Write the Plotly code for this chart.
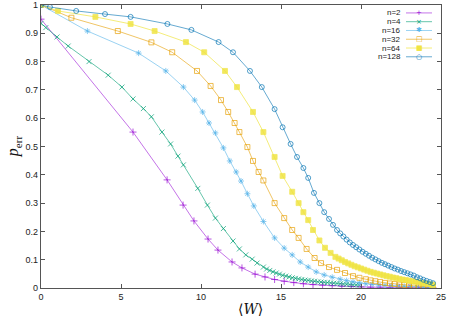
import plotly.graph_objects as go

# ---- data ----
labels = ["n=2", "n=4", "n=16", "n=32", "n=64", "n=128"]

x_n2 = [0, 5.75, 7.88, 8.88, 9.56, 10.44, 11.06, 11.94, 12.56, 13.38, 14.0, 14.6, 15.2, 15.8, 16.4,
        17.0, 17.6, 18.2, 18.8, 19.4, 20.0, 20.6, 21.2, 21.8, 22.4, 23.0, 23.6, 24.2, 24.5]
y_n2 = [0.95, 0.551, 0.382, 0.293, 0.237, 0.173, 0.134, 0.092, 0.071, 0.049, 0.039, 0.030, 0.024, 0.019, 0.015,
        0.012, 0.010, 0.008, 0.006, 0.005, 0.004, 0.003, 0.003, 0.002, 0.002, 0.002, 0.001, 0.001, 0.001]

x_n4 = [0, 0.3, 1.0, 1.7, 3.0, 4.2, 5.06, 5.75, 6.4, 6.9, 7.56, 8.1, 8.56, 8.9, 9.8, 10.4, 10.9, 11.4,
        12.0, 12.4, 12.8, 13.2, 13.5, 13.9, 14.1, 14.3, 14.5, 14.7, 14.9, 15.1, 15.3, 15.5, 15.7, 15.9,
        16.1, 16.3, 16.5, 16.7, 16.9, 17.1, 17.3, 17.5, 17.7, 17.9, 18.1, 18.3, 18.5, 18.7, 18.9, 19.1,
        19.3, 19.5, 19.7, 19.9]
y_n4 = [0.935, 0.92, 0.887, 0.855, 0.80, 0.752, 0.71, 0.668, 0.634, 0.605, 0.551, 0.509, 0.466, 0.435,
        0.352, 0.293, 0.247, 0.21, 0.166, 0.138, 0.117, 0.102, 0.088, 0.074, 0.067, 0.062, 0.057, 0.053,
        0.049, 0.045, 0.042, 0.039, 0.036, 0.034, 0.032, 0.030, 0.028, 0.027, 0.025, 0.024, 0.022, 0.021,
        0.020, 0.019, 0.018, 0.017, 0.016, 0.015, 0.014, 0.013, 0.012, 0.011, 0.011, 0.010]

x_n16 = [0, 2.9, 6.1, 7.8, 8.9, 9.6, 10.1, 10.5, 10.9, 11.4, 11.8, 12.2, 12.5, 12.9, 13.3, 13.9, 14.6,
         15.2, 15.7, 16.2, 16.7, 17.2, 17.7, 18.2, 18.7, 19.1, 19.5, 19.9, 20.3, 20.7, 21.1, 21.5, 21.9,
         22.3, 22.7, 23.1, 23.5, 23.9, 24.3, 24.5]
y_n16 = [1.0, 0.908, 0.83, 0.767, 0.71, 0.664, 0.622, 0.583, 0.548, 0.495, 0.449, 0.41, 0.378, 0.333,
         0.29, 0.235, 0.177, 0.141, 0.117, 0.092, 0.074, 0.057, 0.046, 0.038, 0.031, 0.026, 0.022, 0.018,
         0.015, 0.013, 0.011, 0.009, 0.008, 0.007, 0.006, 0.005, 0.004, 0.003, 0.003, 0.002]

x_n32 = [0, 1.9, 4.8, 6.9, 8.2, 9.75, 10.6, 11.25, 11.7, 12.1, 12.4, 12.9, 13.25, 13.6, 13.9, 14.6,
         15.2, 15.7, 16.1, 16.6, 17.1, 17.5, 18.0, 18.5, 19.0, 19.5, 19.9, 20.3, 20.6, 20.9, 21.2, 21.5,
         21.8, 22.1, 22.4, 22.7, 23.0, 23.3, 23.6, 23.9, 24.2, 24.5]
y_n32 = [1.0, 0.955, 0.908, 0.868, 0.833, 0.767, 0.714, 0.664, 0.622, 0.583, 0.551, 0.498, 0.449, 0.41,
         0.38, 0.30, 0.247, 0.205, 0.177, 0.138, 0.106, 0.088, 0.074, 0.064, 0.053, 0.042, 0.036, 0.031,
         0.027, 0.024, 0.021, 0.018, 0.016, 0.014, 0.012, 0.011, 0.009, 0.008, 0.007, 0.006, 0.005, 0.004]

x_n64 = [0, 1.06, 3.4, 5.6, 7.1, 9.06, 10.2, 11.5, 12.25, 13.25, 13.9, 14.6, 15.1, 15.7, 16.1, 16.4,
         16.7, 17.0, 17.4, 17.75, 18.1, 18.4, 18.6, 18.8, 19.0, 19.2, 19.4, 19.6, 19.8, 20.0, 20.2, 20.4,
         20.6, 20.8, 21.0, 21.2, 21.4, 21.6, 21.8, 22.0, 22.2, 22.4, 22.6, 22.8, 23.0, 23.2, 23.4, 23.6,
         23.8, 24.0, 24.2, 24.4, 24.5]
y_n64 = [1.0, 0.979, 0.958, 0.933, 0.908, 0.869, 0.833, 0.767, 0.71, 0.622, 0.551, 0.463, 0.396, 0.34,
         0.30, 0.268, 0.24, 0.205, 0.168, 0.142, 0.124, 0.11, 0.104, 0.098, 0.092, 0.087, 0.082, 0.077,
         0.073, 0.069, 0.065, 0.061, 0.057, 0.054, 0.051, 0.048, 0.045, 0.042, 0.040, 0.037, 0.035, 0.032,
         0.030, 0.028, 0.026, 0.024, 0.022, 0.020, 0.018, 0.016, 0.014, 0.012, 0.011]

x_n128 = [0, 0.56, 2.2, 4.0, 5.6, 7.9, 9.4, 11.1, 12.0, 13.06, 13.8, 14.6, 15.1, 15.6, 16.0, 16.4, 16.7,
          17.06, 17.4, 17.7, 18.0, 18.25, 18.5, 18.7, 18.9, 19.1, 19.3, 19.5, 19.7, 19.9, 20.1, 20.3,
          20.5, 20.7, 20.9, 21.1, 21.3, 21.5, 21.7, 21.9, 22.1, 22.3, 22.5, 22.7, 22.9, 23.1, 23.3, 23.5,
          23.7, 23.9, 24.1, 24.3, 24.5]
y_n128 = [1.0, 0.993, 0.979, 0.968, 0.958, 0.933, 0.912, 0.869, 0.833, 0.767, 0.71, 0.632, 0.568, 0.509,
          0.463, 0.424, 0.389, 0.336, 0.30, 0.268, 0.244, 0.223, 0.205, 0.193, 0.182, 0.171, 0.161, 0.152,
          0.144, 0.136, 0.128, 0.121, 0.114, 0.107, 0.101, 0.095, 0.089, 0.084, 0.079, 0.074, 0.069, 0.065,
          0.060, 0.056, 0.052, 0.048, 0.044, 0.038, 0.034, 0.029, 0.025, 0.021, 0.017]

xs = [x_n2, x_n4, x_n16, x_n32, x_n64, x_n128]
ys = [y_n2, y_n4, y_n16, y_n32, y_n64, y_n128]

colors = ["#9400d3", "#009e73", "#56b4e9", "#e69f00", "#f0e442", "#0072b2"]
line_colors = ["rgba(148,0,211,0.55)", "rgba(0,158,115,0.6)", "rgba(86,180,233,0.6)",
               "rgba(230,159,0,0.6)", "rgba(240,228,66,0.7)", "rgba(0,114,178,0.6)"]
symbols = ["cross-thin-open", "x-thin-open", "asterisk-open", "square-open", "square", "circle-open"]
glyphs = ["+", "×", "✱", "□", "■", "○"]
msizes = [5, 5, 5, 5, 5, 5]

fig = go.Figure()
for x, y, name, c, lc, s, ms in zip(xs, ys, labels, colors, line_colors, symbols, msizes):
    fig.add_trace(go.Scatter(
        x=x, y=y, name=name, mode="lines+markers", showlegend=False,
        line=dict(color=lc, width=1),
        marker=dict(symbol=s, size=ms, color=c, opacity=0.85, line=dict(color=c, width=0.8)),
    ))

axis_common = dict(
    showline=True, linecolor="#555555", linewidth=1.2, mirror="ticks",
    ticks="inside", ticklen=4, tickcolor="#555555", tickwidth=1,
    showgrid=False, zeroline=False, automargin=False,
    tickfont=dict(family="Liberation Sans, Arial, sans-serif", size=9, color="#222222"),
)

fig.update_xaxes(range=[0, 25], tickvals=[0, 5, 10, 15, 20, 25], **axis_common)
fig.update_yaxes(range=[0, 1], tickvals=[0, 0.1, 0.2, 0.3, 0.4, 0.5, 0.6, 0.7, 0.8, 0.9, 1],
                 ticktext=["0", "0.1", "0.2", "0.3", "0.4", "0.5", "0.6", "0.7", "0.8", "0.9", "1"],
                 **axis_common)

# axis titles
fig.add_annotation(text="⟨<i>W</i>⟩", xref="paper", yref="paper", x=0.5225, y=-0.073,
                   xanchor="center", yanchor="middle", showarrow=False, borderpad=0,
                   font=dict(family="DejaVu Serif, Liberation Serif, serif", size=14, color="#111111"))
fig.add_annotation(text="<i>p</i><sub>err</sub>", xref="paper", yref="paper", x=-0.068, y=0.5,
                   xanchor="center", yanchor="middle", showarrow=False, textangle=-90,
                   font=dict(family="Liberation Serif, DejaVu Serif, serif", size=16, color="#111111"))

# gnuplot-style key: label, then line sample with point
row_top = 0.972
row_step = 0.031
for i, (name, c, lc, g) in enumerate(zip(labels, colors, line_colors, glyphs)):
    yy = row_top - i * row_step
    fig.add_annotation(text=name, xref="paper", yref="paper", x=0.9025, y=yy,
                       xanchor="right", yanchor="middle", showarrow=False, borderpad=0,
                       font=dict(family="Liberation Sans, Arial, sans-serif", size=8, color="#222222"))
    fig.add_shape(type="line", xref="paper", yref="paper", x0=0.9125, x1=0.9775, y0=yy, y1=yy,
                  line=dict(color=lc, width=1))
    fig.add_annotation(text=g, xref="paper", yref="paper", x=0.945, y=yy,
                       xanchor="center", yanchor="middle", showarrow=False, borderpad=0,
                       font=dict(family="DejaVu Sans, sans-serif", size=7, color=c))

fig.update_layout(
    width=449, height=318,
    margin=dict(l=41, r=8, t=5, b=30),
    paper_bgcolor="white", plot_bgcolor="white",
    showlegend=False,
)

fig.write_html("out.html", config={"displayModeBar": False},
               post_script="document.body.style.margin='0';document.body.style.overflow='hidden';")
